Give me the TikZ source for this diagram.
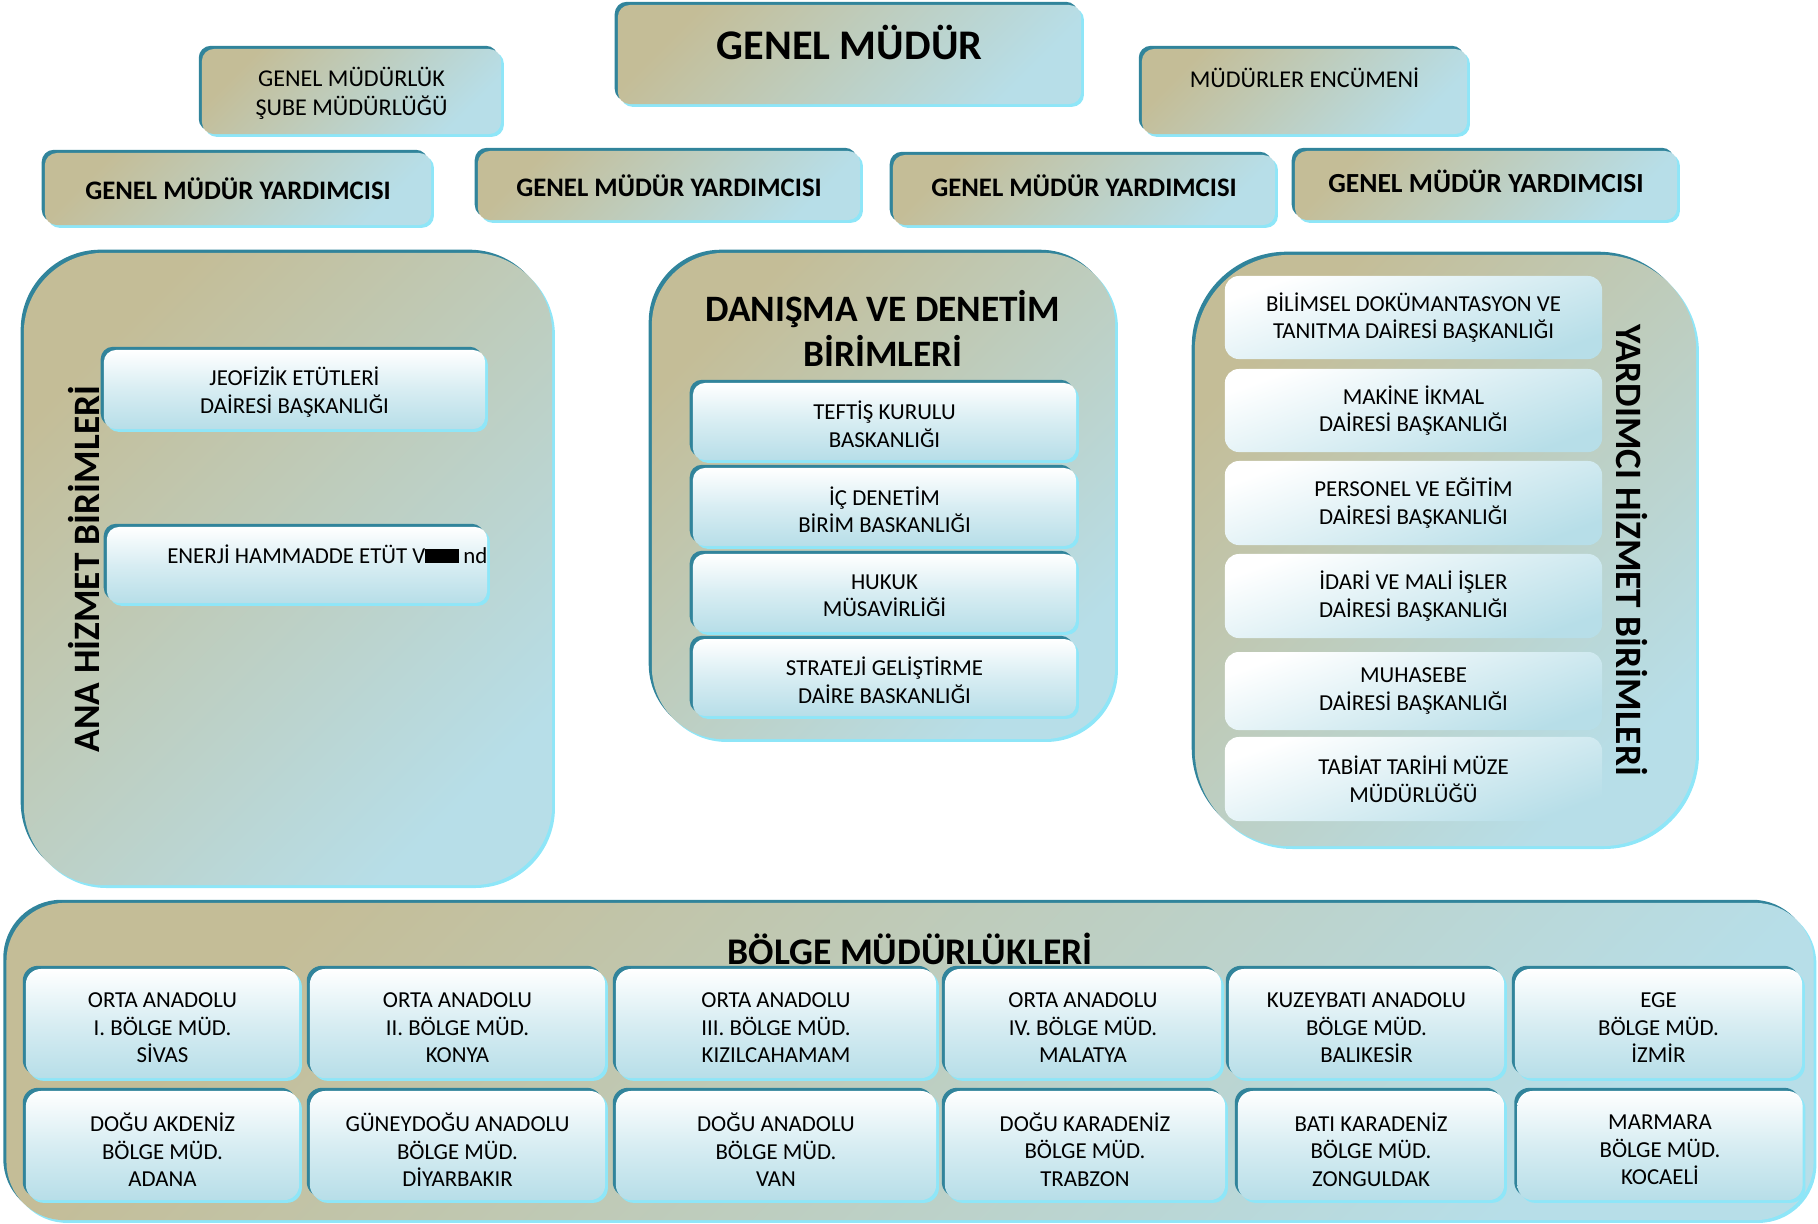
\documentclass[tikz,border=0pt]{standalone}
\usepackage{fontspec}
\setmainfont{Carlito}
\usepackage{tikz}
\usetikzlibrary{shapes, shadows, positioning}
\definecolor{tan_bg}{HTML}{C4BD97}
\definecolor{aqua_bg}{HTML}{B7DEE8}
\definecolor{rim_dark}{HTML}{31849B}
\definecolor{rim_light}{HTML}{8EE6F8}
\tikzset{
    bevel/.style={general shadow={fill=rim_dark, shadow xshift=-0.9pt, shadow yshift=0.9pt}, general shadow={fill=rim_light, shadow xshift=0.8pt, shadow yshift=-0.8pt}},
    panel/.style={rectangle, bevel, top color=tan_bg, bottom color=aqua_bg, shading angle=45, inner sep=0pt},
    head/.style={panel, rounded corners=0.12cm, align=center},
    smalltext/.style={align=center, inner sep=0pt, font=\fontsize{6.5}{7.9}\selectfont},
    unitbox/.style={rectangle, bevel, rounded corners=0.12cm, top color=white, bottom color=aqua_bg, middle color=white!45!aqua_bg, inner sep=0pt},
    unit/.style={unitbox, label={[smalltext, yshift=-0.75pt]center:#1}},
    region/.style={unitbox, rounded corners=0.15cm, minimum height=1.09cm, label={[smalltext, yshift=-1.2pt]center:#1}},
    plainunit/.style={rectangle, rounded corners=0.14cm, top color=white, bottom color=aqua_bg, shading angle=20, align=center, inner sep=0pt, font=\fontsize{6.5}{7.9}\selectfont},
    headtext/.style={align=center, inner sep=0pt, font=\fontsize{6.85}{8.3}\selectfont},
    gmytext/.style={font=\fontsize{7.6}{9}\selectfont\bfseries},
    title/.style={align=center, inner sep=0pt, font=\fontsize{10.6}{12.9}\selectfont\bfseries}
}

\begin{document}
\begin{tikzpicture}[x=0.01cm, y=-0.01cm]
        \useasboundingbox (0,0) rectangle (1818,1223);

        % Top level
        \node (GM_box) [head, minimum width=4.63cm, minimum height=0.99cm] at (849.5, 54.5) {};
        \node (GM_label) [inner sep=0pt, font=\fontsize{12}{14}\selectfont\bfseries] at (849.5, 42.7) {GENEL MÜDÜR};
        \node (Sube_box) [head, headtext, text depth=0pt, minimum width=2.99cm, minimum height=0.85cm] at (351.5, 91.5) {GENEL MÜDÜRLÜK\\ŞUBE MÜDÜRLÜĞÜ};
        \node (Encumen_box) [head, minimum width=3.25cm, minimum height=0.85cm] at (1304.5, 91.5) {};
        \node (Encumen_label) [headtext] at (1304.5, 78) {MÜDÜRLER ENCÜMENİ};

        \node (GMY1) [head, gmytext, minimum width=3.86cm, minimum height=0.72cm] at (238, 189) {GENEL MÜDÜR YARDIMCISI};
        \node (GMY2) [head, gmytext, minimum width=3.82cm, minimum height=0.69cm] at (669, 185.5) {GENEL MÜDÜR YARDIMCISI};
        \node (GMY3) [head, minimum width=3.82cm, minimum height=0.70cm] at (1084, 190) {};
        \node (GMY3_label) [gmytext, inner sep=0pt] at (1084, 185.5) {GENEL MÜDÜR YARDIMCISI};
        \node (GMY4) [head, minimum width=3.82cm, minimum height=0.69cm] at (1486, 185.5) {};
        \node (GMY4_label) [gmytext, font=\fontsize{7.85}{9}\selectfont\bfseries, inner sep=0pt] at (1486, 181) {GENEL MÜDÜR YARDIMCISI};

        % Ana hizmet birimleri
        \node (Ana_panel) [panel, rounded corners=0.8cm, minimum width=5.28cm, minimum height=6.32cm] at (288, 569) {};
        \node (Ana_title) [title, rotate=90] at (83.5, 569) {ANA HİZMET BİRİMLERİ};
        \node (Jeofizik) [unit={JEOFİZİK ETÜTLERİ\\DAİRESİ BAŞKANLIĞI}, minimum width=3.81cm, minimum height=0.79cm] at (294.5, 389.5) {};
        \node (Enerji) [unitbox, minimum width=3.80cm, minimum height=0.76cm] at (297, 565) {};
        \node (Enerji_label) [smalltext, anchor=east] at (488, 554) {ENERJİ HAMMADDE ETÜT V\rule{0.34cm}{0.62em}\,nd};

        % Danisma ve denetim birimleri
        \node (Danisma_panel) [panel, rounded corners=0.72cm, minimum width=4.63cm, minimum height=4.86cm] at (883.5, 496) {};
        \node (Danisma_title) [title] at (883, 328.7) {DANIŞMA VE DENETİM\\BİRİMLERİ};
        \node (Teftis) [unit={TEFTİŞ KURULU\\BASKANLIĞI}, minimum width=3.83cm, minimum height=0.77cm] at (884.5, 421.5) {};
        \node (IcDenetim) [unit={İÇ DENETİM\\BİRİM BASKANLIĞI}, minimum width=3.83cm, minimum height=0.78cm] at (884.5, 507) {};
        \node (Hukuk) [unit={HUKUK\\MÜSAVİRLİĞİ}, minimum width=3.83cm, minimum height=0.78cm] at (884.5, 593) {};
        \node (Strateji) [unit={STRATEJİ GELİŞTİRME\\DAİRE BASKANLIĞI}, minimum width=3.83cm, minimum height=0.77cm] at (884.5, 677.5) {};

        % Yardimci hizmet birimleri
        \node (Yardimci_panel) [panel, rounded corners=0.95cm, minimum width=5.01cm, minimum height=5.91cm] at (1445.5, 550.5) {};
        \node (Yardimci_title) [title, rotate=-90] at (1632, 550) {YARDIMCI HİZMET BİRİMLERİ};
        \node (Bilimsel) [plainunit, minimum width=3.77cm, minimum height=0.83cm] at (1413.5, 317.5) {BİLİMSEL DOKÜMANTASYON VE\\TANITMA DAİRESİ BAŞKANLIĞI};
        \node (Makine) [plainunit, minimum width=3.77cm, minimum height=0.83cm] at (1413.5, 410.5) {MAKİNE İKMAL\\DAİRESİ BAŞKANLIĞI};
        \node (Personel) [plainunit, minimum width=3.77cm, minimum height=0.84cm] at (1413.5, 503) {PERSONEL VE EĞİTİM\\DAİRESİ BAŞKANLIĞI};
        \node (Idari) [plainunit, minimum width=3.77cm, minimum height=0.84cm] at (1413.5, 596) {İDARİ VE MALİ İŞLER\\DAİRESİ BAŞKANLIĞI};
        \node (Muhasebe) [plainunit, minimum width=3.77cm, minimum height=0.78cm] at (1413.5, 691) {MUHASEBE\\DAİRESİ BAŞKANLIĞI};
        \node (Tabiat) [plainunit, minimum width=3.77cm, minimum height=0.84cm] at (1413.5, 779) {TABİAT TARİHİ MÜZE\\MÜDÜRLÜĞÜ};

        % Bolge mudurlukleri
        \node (Bolge_panel) [panel, rounded corners=0.58cm, minimum width=18.06cm, minimum height=3.17cm] at (910, 1061.5) {};
        \node (Bolge_title) [title, font=\fontsize{10.7}{12}\selectfont\bfseries] at (910, 948.5) {BÖLGE MÜDÜRLÜKLERİ};

        \node (Sivas) [region={ORTA ANADOLU\\I. BÖLGE MÜD.\\SİVAS}, minimum width=2.73cm] at (162.5, 1023.5) {};
        \node (Konya) [region={ORTA ANADOLU\\II. BÖLGE MÜD.\\KONYA}, minimum width=2.95cm] at (457.5, 1023.5) {};
        \node (Kizilcahamam) [region={ORTA ANADOLU\\III. BÖLGE MÜD.\\KIZILCAHAMAM}, minimum width=3.20cm] at (776, 1023.5) {};
        \node (Malatya) [region={ORTA ANADOLU\\IV. BÖLGE MÜD.\\MALATYA}, minimum width=2.76cm] at (1083, 1023.5) {};
        \node (Balikesir) [region={KUZEYBATI ANADOLU\\BÖLGE MÜD.\\BALIKESİR}, minimum width=2.75cm] at (1366.5, 1023.5) {};
        \node (Izmir) [region={EGE\\BÖLGE MÜD.\\İZMİR}, minimum width=2.87cm] at (1658.5, 1023.5) {};

        \node (Adana) [region={DOĞU AKDENİZ\\BÖLGE MÜD.\\ADANA}, minimum width=2.73cm] at (162.5, 1145.5) {};
        \node (Diyarbakir) [region={GÜNEYDOĞU ANADOLU\\BÖLGE MÜD.\\DİYARBAKIR}, minimum width=2.95cm] at (457.5, 1145.5) {};
        \node (Van) [region={DOĞU ANADOLU\\BÖLGE MÜD.\\VAN}, minimum width=3.20cm] at (776, 1145.5) {};
        \node (Trabzon) [region={DOĞU KARADENİZ\\BÖLGE MÜD.\\TRABZON}, minimum width=2.80cm] at (1085, 1145.5) {};
        \node (Zonguldak) [region={BATI KARADENİZ\\BÖLGE MÜD.\\ZONGULDAK}, minimum width=2.66cm] at (1371, 1145.5) {};
        \node (Kocaeli) [region={MARMARA\\BÖLGE MÜD.\\KOCAELİ}, minimum width=2.85cm] at (1660, 1145.5) {};

    \end{tikzpicture}
\end{document}
